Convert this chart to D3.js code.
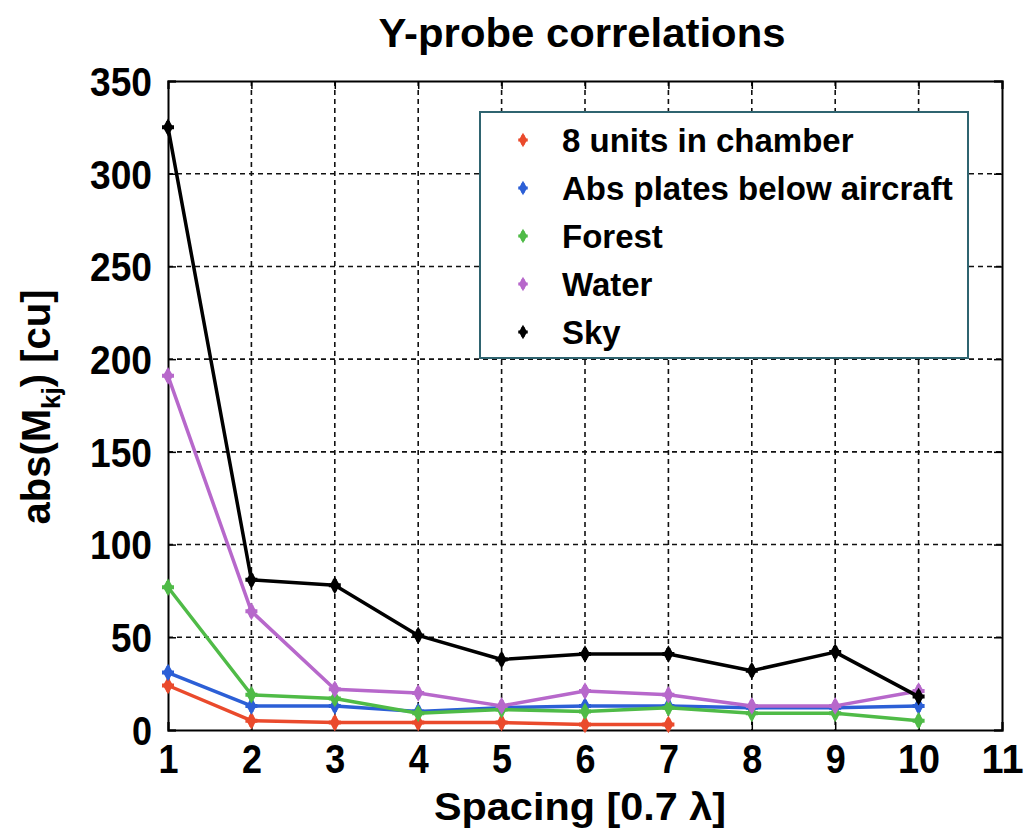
<!DOCTYPE html>
<html>
<head>
<meta charset="utf-8">
<script src="https://cdn.jsdelivr.net/npm/d3@7"></script>
<style>
  body { margin: 0; background: #fff; }
  text { font-family: "Liberation Sans", Arial, sans-serif; font-weight: bold; fill: #000; }
</style>
</head>
<body>
<div id="chart"></div>
<script>
(function(){
  'use strict';

  var spacing = [1, 2, 3, 4, 5, 6, 7, 8, 9, 10];
  var seriesNames = ['8 units in chamber', 'Abs plates below aircraft', 'Forest', 'Water', 'Sky'];
  var chamberVals = [24, 5, 4, 4, 4, 3, 3];
  var absPlatesVals = [31, 13, 13, 10, 12, 13, 13, 12, 12, 13];
  var forestVals = [77, 19, 17, 9, 11, 10, 12, 9, 9, 5];
  var waterVals = [191, 64, 22, 20, 13, 21, 19, 13, 13, 21];
  var skyVals = [325, 81, 78, 51, 38, 41, 41, 32, 42, 18];
  var xTicks = [1, 2, 3, 4, 5, 6, 7, 8, 9, 10, 11];
  var yTicks = [0, 50, 100, 150, 200, 250, 300, 350];
  var colors = ['#ea4a2c', '#2c5fd6', '#4fbb47', '#b768cb', '#000000'];

  var series = [chamberVals, absPlatesVals, forestVals, waterVals, skyVals].map(function(v, i) {
    return { name: seriesNames[i], c: colors[i], pts: v.map(function(d, j) { return [spacing[j], d]; }) };
  });

  var w = 1025, h = 832,
      left = 168, right = 1002, top = 81, bottom = 730;

  var svg = d3.select('#chart').append('svg')
    .attr('width', w)
    .attr('height', h);

  var x = d3.scaleLinear().domain([1, 11]).range([left, right]);
  var y = d3.scaleLinear().domain([0, 350]).range([bottom, top]);

  // grid
  svg.append('g').selectAll('line')
    .data(xTicks.slice(1, -1))
    .enter().append('line')
    .attr('x1', function(d) { return x(d); })
    .attr('x2', function(d) { return x(d); })
    .attr('y1', top).attr('y2', bottom)
    .style('stroke', '#111').style('stroke-width', 1.6)
    .style('stroke-dasharray', '5,4');

  svg.append('g').selectAll('line')
    .data(yTicks.slice(1, -1))
    .enter().append('line')
    .attr('y1', function(d) { return y(d); })
    .attr('y2', function(d) { return y(d); })
    .attr('x1', left).attr('x2', right)
    .style('stroke', '#111').style('stroke-width', 1.6)
    .style('stroke-dasharray', '5,4');

  // axes (ticks inside, box)
  var xAxis = d3.axisBottom(x).tickValues(xTicks).tickSize(-8).tickFormat(d3.format('d'));
  var yAxis = d3.axisLeft(y).tickValues(yTicks).tickSize(-8).tickFormat(d3.format('d'));

  var gx = svg.append('g')
    .attr('transform', 'translate(0,' + bottom + ')')
    .call(xAxis);
  var gy = svg.append('g')
    .attr('transform', 'translate(' + left + ',0)')
    .call(yAxis);

  svg.append('g').attr('transform', 'translate(0,' + top + ')')
    .call(d3.axisTop(x).tickValues(xTicks).tickSize(-8).tickFormat(''));
  svg.append('g').attr('transform', 'translate(' + right + ',0)')
    .call(d3.axisRight(y).tickValues(yTicks).tickSize(-8).tickFormat(''));

  svg.selectAll('.domain').style('stroke', '#000').style('stroke-width', 2);
  svg.selectAll('.tick line').style('stroke', '#000').style('stroke-width', 1.5);

  gx.selectAll('text').style('font-size', '40px').attr('y', 15).attr('dy', '0.71em')
    .attr('textLength', function(d) { return d < 10 ? 20 : 42; })
    .attr('lengthAdjust', 'spacingAndGlyphs');
  gy.selectAll('text').style('font-size', '40px').attr('x', -16).attr('dy', '0.36em')
    .attr('textLength', function(d) { return d < 10 ? 20 : (d < 100 ? 41 : 62); })
    .attr('lengthAdjust', 'spacingAndGlyphs');

  // lines
  var line = d3.line()
    .x(function(d) { return x(d[0]); })
    .y(function(d) { return y(d[1]); });

  var sets = svg.selectAll('.set')
    .data(series)
    .enter().append('g')
    .attr('class', 'set');

  sets.append('path')
    .attr('d', function(d) { return line(d.pts); })
    .style('fill', 'none')
    .style('stroke', function(d) { return d.c; })
    .style('stroke-width', 3.5)
    .style('stroke-linejoin', 'round');

  var diamond = d3.symbol().type(d3.symbolDiamond).size(90);
  var cross = d3.symbol().type(d3.symbolCross).size(80);

  sets.selectAll('.pt')
    .data(function(d) { return d.pts.map(function(p) { return { p: p, c: d.c }; }); })
    .enter().append('g')
    .attr('transform', function(d) { return 'translate(' + x(d.p[0]) + ',' + y(d.p[1]) + ')'; })
    .each(function(d) {
      var g = d3.select(this);
      g.append('path').attr('d', diamond()).style('fill', d.c);
      g.append('path').attr('d', cross()).style('fill', d.c);
    });

  // legend
  var lg = svg.append('g');
  lg.append('rect')
    .attr('x', 480).attr('y', 112)
    .attr('width', 488).attr('height', 246)
    .style('fill', '#fff')
    .style('stroke', '#2f6470').style('stroke-width', 2);

  var items = lg.selectAll('.item')
    .data(series)
    .enter().append('g')
    .attr('transform', function(d, i) { return 'translate(523,' + (140 + i * 48) + ')'; });

  items.append('path')
    .attr('d', d3.symbol().type(d3.symbolDiamond).size(60)())
    .style('fill', function(d) { return d.c; });
  items.append('path')
    .attr('d', d3.symbol().type(d3.symbolCross).size(50)())
    .style('fill', function(d) { return d.c; });
  items.append('text')
    .attr('x', 39)
    .attr('dy', '0.36em')
    .style('font-size', '33px')
    .text(function(d) { return d.name; });

  // title and labels
  svg.append('text')
    .attr('x', 582).attr('y', 47)
    .attr('text-anchor', 'middle')
    .attr('textLength', 407).attr('lengthAdjust', 'spacingAndGlyphs')
    .style('font-size', '40px')
    .text('Y-probe correlations');

  svg.append('text')
    .attr('x', 580).attr('y', 820)
    .attr('text-anchor', 'middle')
    .attr('textLength', 292).attr('lengthAdjust', 'spacingAndGlyphs')
    .style('font-size', '38px')
    .text('Spacing [0.7 \u03bb]');

  var yl = svg.append('text')
    .attr('transform', 'translate(50,407) rotate(-90)')
    .attr('text-anchor', 'middle')
    .style('font-size', '40px');
  yl.append('tspan').text('abs(M');
  yl.append('tspan').attr('dy', 10).style('font-size', '26px').text('kj');
  yl.append('tspan').attr('dy', -10).text(') [cu]');
}());
</script>
</body>
</html>
